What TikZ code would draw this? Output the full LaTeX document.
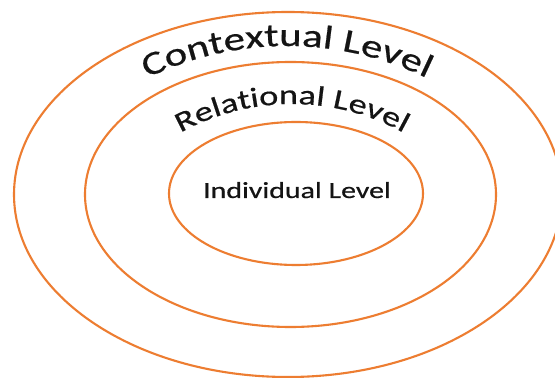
\documentclass[tikz,border=0pt]{standalone}
\usepackage{fontspec}
\setmainfont{Carlito}
\newfontfamily\widefont[FakeStretch=1.3,FakeBold=0.6]{Carlito}
\usetikzlibrary{decorations.text}
\definecolor{ringorange}{HTML}{ED7D31}
\definecolor{inktext}{HTML}{141414}
\begin{document}
\begin{tikzpicture}[x=1pt,y=1pt,
  ring/.style={draw=ringorange, line width=2.1pt},
  arctext/.style={decorate, decoration={text along path, text align=center,
     text format delimiters={|}{|}, text color=inktext, text={#1}}}]
\useasboundingbox (0,0) rectangle (555,378);
\fill[white] (0,0) rectangle (555,378);
% rings
\draw[ring] (288,183.5) ellipse [x radius=274, y radius=182.5];
\draw[ring] (290.5,183.5) ellipse [x radius=205.5, y radius=132.5];
\draw[ring] (296,184.5) ellipse [x radius=127, y radius=71.5];
% inner label
\node[font=\widefont\fontsize{23}{26}\selectfont, text=inktext, anchor=base, inner sep=0pt]
  (indiv) at (297,180) {Individual Level};
% arched labels
\path[arctext={|\widefont\fontsize{33}{36}\selectfont|Contextual Level}]
  (287,12) ++(125:320) arc[start angle=125, end angle=55, radius=320];
\path[arctext={|\widefont\fontsize{28}{32}\selectfont|Relational Level}]
  (292,44) ++(130:230) arc[start angle=130, end angle=50, radius=230];
\end{tikzpicture}
\end{document}
